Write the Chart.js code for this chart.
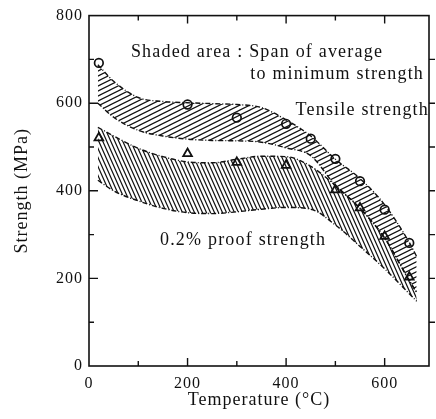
<!DOCTYPE html>
<html>
<head>
<meta charset="utf-8">
<script src="https://cdn.jsdelivr.net/npm/chart.js@4.4.0/dist/chart.umd.min.js"></script>
<style>
  html, body { margin: 0; padding: 0; background: #fff; }
</style>
</head>
<body>
<canvas id="chart" width="436" height="419"></canvas>
<script>
// band outlines (average / minimum)
const curveTemps   = [18, 50, 100, 150, 200, 250, 300, 350, 400, 450, 500, 550, 600, 650, 665];
const tensileAvg   = [688, 650, 613, 604, 601, 599, 597, 590, 562, 525, 472, 428, 368, 282, 250];
const tensileMin   = [600, 568, 538, 525, 518, 515, 514, 511, 498, 480, 412, 360, 292, 195, 168];
const proofAvg     = [545, 525, 497, 478, 466, 464, 472, 479, 478, 456, 412, 360, 292, 195, 168];
const proofMin     = [424, 400, 377, 360, 350, 348, 352, 358, 362, 358, 322, 273, 222, 165, 148];

// measured points
const tensileTemps = [20, 200, 300, 400, 450, 500, 550, 600, 650];
const tensileVals  = [692, 597, 567, 553, 519, 473, 422, 357, 281];
const proofTemps   = [20, 200, 300, 400, 500, 550, 600, 650];
const proofVals    = [521, 485, 465, 458, 402, 361, 296, 203];

const xTickValues = [0, 100, 200, 300, 400, 500, 600];
const xTickLabels = [0, 200, 400, 600];
const yTickValues = [0, 100, 200, 300, 400, 500, 600, 700, 800];
const yTickLabels = [0, 200, 400, 600, 800];

const FONT = '"Liberation Serif", "Times New Roman", serif';
const INK = '#111';

const pts = (xs, ys) => xs.map((x, i) => ({ x: x, y: ys[i] }));

// hatch patterns
function hatch(w, h, rising) {
    const c = document.createElement('canvas');
    c.width = w; c.height = h;
    const g = c.getContext('2d');
    g.strokeStyle = INK;
    g.lineWidth = 1.2;
    g.beginPath();
    for (let k = -1; k <= 1; k++) {
        if (rising) {
            g.moveTo(-w, 2 * h + k * h);
            g.lineTo(2 * w, -h + k * h);
        } else {
            g.moveTo(k * w - w, -h);
            g.lineTo(k * w + 2 * w, 2 * h);
        }
    }
    g.stroke();
    return g.createPattern(c, 'repeat');
}
const ctx = document.querySelector('#chart').getContext('2d');
const tensileHatch = hatch(10, 5, true);
const proofHatch = hatch(4, 9, false);

const edge = {
    borderColor: INK,
    borderWidth: 1.4,
    borderDash: [5, 2, 1, 2],
    pointRadius: 0,
    cubicInterpolationMode: 'monotone'
};

const notes = [
    { text: 'Shaded area : Span of average', t: 85, v: 706, align: 'left' },
    { text: 'to minimum strength', t: 680, v: 656, align: 'right' },
    { text: 'Tensile strength', t: 690, v: 572, align: 'right' },
    { text: '0.2% proof strength', t: 144, v: 276, align: 'left' }
];

//letter spacing for the wide typesetting
const spacing = {
    id: 'spacing',
    beforeLayout(chart) { chart.ctx.letterSpacing = '1px'; },
    beforeDraw(chart) { chart.ctx.letterSpacing = '1px'; }
};

//frame with ticks on all sides
const frame = {
    id: 'frame',
    afterDraw(chart) {
        const { ctx, chartArea: a, scales: { x, y } } = chart;
        ctx.save();
        ctx.strokeStyle = INK;
        ctx.lineWidth = 1.6;
        ctx.strokeRect(a.left, a.top, a.right - a.left, a.bottom - a.top);
        ctx.lineWidth = 1.4;
        ctx.beginPath();
        x.ticks.forEach(t => {
            if (t.value === 0) return;
            const px = x.getPixelForValue(t.value);
            const len = t.value % 200 === 0 ? 8 : 5;
            ctx.moveTo(px, a.bottom); ctx.lineTo(px, a.bottom - len);
            ctx.moveTo(px, a.top); ctx.lineTo(px, a.top + len);
        });
        y.ticks.forEach(t => {
            if (t.value === 0 || t.value === 800) return;
            const py = y.getPixelForValue(t.value);
            const len = t.value % 200 === 0 ? 9 : 5;
            ctx.moveTo(a.left, py); ctx.lineTo(a.left + len, py);
            ctx.moveTo(a.right, py); ctx.lineTo(a.right + 6, py);
        });
        ctx.stroke();
        ctx.restore();
    }
};

const labels = {
    id: 'labels',
    afterDraw(chart) {
        const { ctx, scales: { x, y } } = chart;
        ctx.save();
        ctx.font = '18px ' + FONT;
        ctx.fillStyle = INK;
        ctx.letterSpacing = '1.2px';
        ctx.textBaseline = 'alphabetic';
        notes.forEach(n => {
            ctx.textAlign = n.align;
            ctx.fillText(n.text, x.getPixelForValue(n.t), y.getPixelForValue(n.v));
        });
        ctx.restore();
    }
};

new Chart(ctx, {
    type: 'line',
    data: {
        datasets: [
            { ...edge, data: pts(curveTemps, tensileAvg), fill: '+1', backgroundColor: tensileHatch },
            { ...edge, data: pts(curveTemps, tensileMin), fill: false },
            { ...edge, data: pts(curveTemps, proofAvg), fill: '+1', backgroundColor: proofHatch },
            { ...edge, data: pts(curveTemps, proofMin), fill: false },
            {
                data: pts(tensileTemps, tensileVals),
                showLine: false,
                pointStyle: 'circle',
                pointRadius: 4.3,
                pointBorderWidth: 1.7,
                pointBorderColor: INK,
                pointBackgroundColor: 'rgba(255,255,255,0.6)'
            },
            {
                data: pts(proofTemps, proofVals),
                showLine: false,
                pointStyle: 'triangle',
                pointRadius: 5,
                pointBorderWidth: 1.8,
                pointBorderColor: INK,
                pointBackgroundColor: 'rgba(255,255,255,0.6)'
            }
        ]
    },
    options: {
        responsive: false,
        animation: false,
        layout: { padding: { top: 15, right: 7, left: 0, bottom: 0 } },
        plugins: { legend: { display: false }, tooltip: { enabled: false } },
        scales: {
            x: {
                type: 'linear',
                min: 0,
                max: 690,
                afterBuildTicks: s => { s.ticks = xTickValues.map(v => ({ value: v })); },
                afterFit: s => { s.height = 53; },
                grid: { display: false, drawTicks: false },
                border: { display: false },
                ticks: {
                    padding: 8,
                    color: INK,
                    font: { family: FONT, size: 16 },
                    maxRotation: 0,
                    autoSkip: false,
                    callback: v => xTickLabels.includes(v) ? String(v) : ''
                },
                title: {
                    display: true,
                    text: 'Temperature (°C)',
                    color: INK,
                    font: { family: FONT, size: 18 },
                    padding: { top: 0, bottom: 8 }
                }
            },
            y: {
                min: 0,
                max: 800,
                afterBuildTicks: s => { s.ticks = yTickValues.map(v => ({ value: v })); },
                afterFit: s => { s.width = 89; },
                grid: { display: false, drawTicks: false },
                border: { display: false },
                ticks: {
                    padding: 6,
                    color: INK,
                    font: { family: FONT, size: 16 },
                    autoSkip: false,
                    callback: v => yTickLabels.includes(v) ? String(v) : ''
                },
                title: {
                    display: true,
                    text: 'Strength (MPa)',
                    color: INK,
                    font: { family: FONT, size: 18 },
                    padding: { top: 11, bottom: 0 }
                }
            }
        }
    },
    plugins: [spacing, frame, labels]
});
</script>
</body>
</html>
